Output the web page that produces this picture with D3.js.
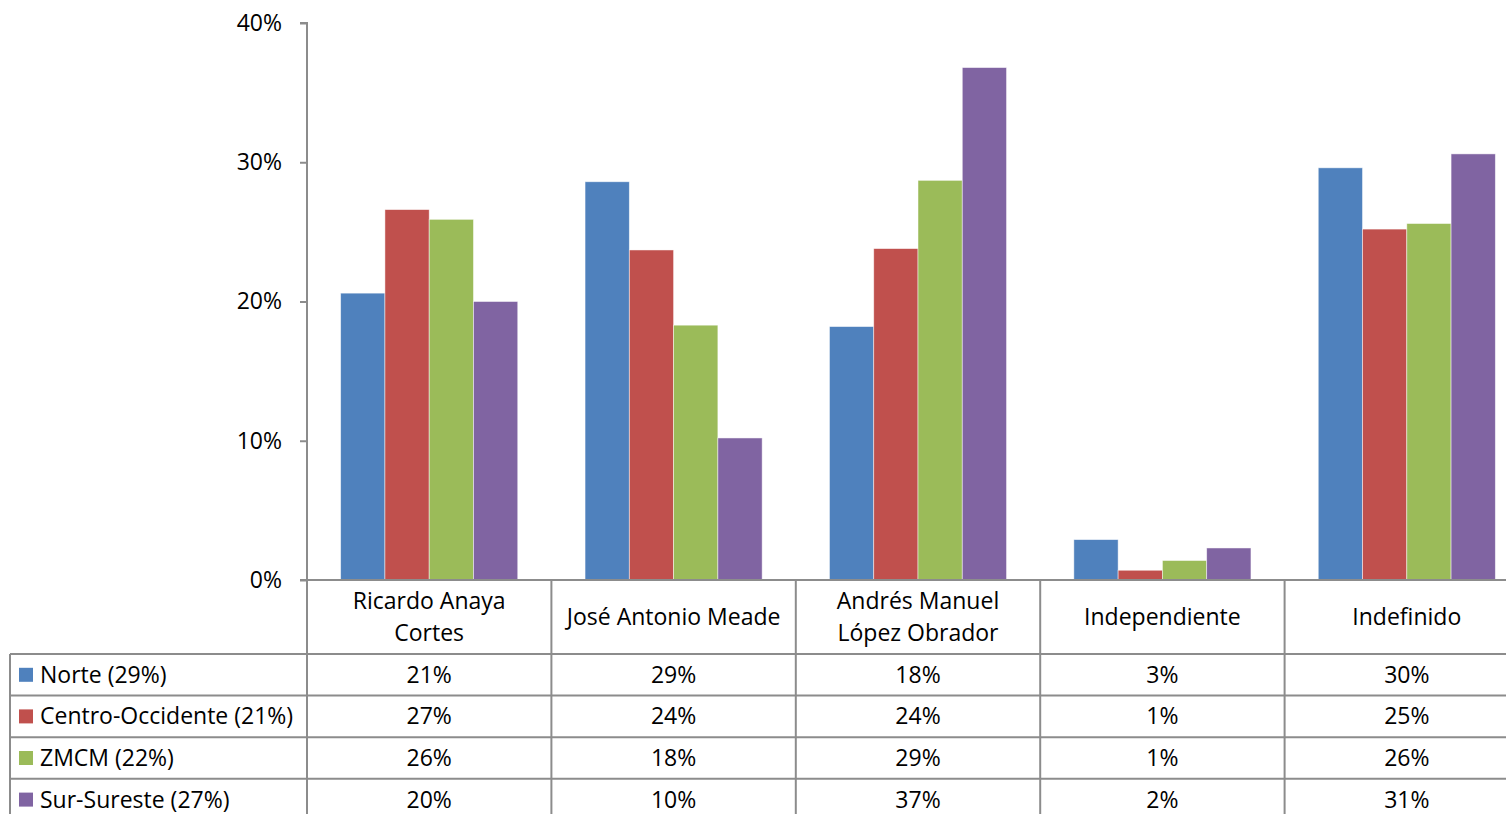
<!DOCTYPE html>
<html>
<head>
<meta charset="utf-8">
<script src="https://cdn.jsdelivr.net/npm/d3@7"></script>
<style>
  body { margin: 0; background: #fff; }
  svg { display: block; font-family: "Open Sans", sans-serif; }
</style>
</head>
<body>
<svg id="chart" width="1506" height="814"></svg>
<script>
// categorias (eje x) y series por region
var categorias = [["Ricardo Anaya", "Cortes"], ["José Antonio Meade"], ["Andrés Manuel", "López Obrador"], ["Independiente"], ["Indefinido"]];
var regiones = ["Norte (29%)", "Centro-Occidente (21%)", "ZMCM (22%)", "Sur-Sureste (27%)"];
var colores = ["#4f81bd", "#c0504d", "#9bbb59", "#8064a2"];
var norte = [0.206, 0.286, 0.182, 0.029, 0.296];
var centro = [0.266, 0.237, 0.238, 0.007, 0.252];
var zmcm = [0.259, 0.183, 0.287, 0.014, 0.256];
var sur = [0.200, 0.102, 0.368, 0.023, 0.306];
var yTicks = [0, 0.1, 0.2, 0.3, 0.4];

var valores = [norte, centro, zmcm, sur];

var svg = d3.select("#chart");
var W = 1506, H = 814;
var mLeft = 307, mTop = 23, mBottom = 580, colW = 244.4;
var tableLeft = 10, headH = 74, rowH = 41.6;
var gris = "#8c8c8c";
var fs = 23;

var catIdx = d3.range(categorias.length);
var x0 = d3.scaleBand().domain(catIdx).range([mLeft, mLeft + colW * categorias.length]);
var x1 = d3.scaleBand().domain(d3.range(regiones.length)).range([0, x0.bandwidth()]).paddingOuter(0.76);
var y = d3.scaleLinear().domain([0, 0.4]).range([mBottom, mTop]);
var fmt = d3.format(".0%");

// barras
var grupos = svg.append("g").selectAll("g").data(valores).enter()
    .append("g")
    .attr("fill", function (d, i) { return colores[i]; });
grupos.each(function (serie, s) {
    d3.select(this).selectAll("rect").data(serie).enter()
        .append("rect")
        .attr("x", function (d, i) { return x0(i) + x1(s); })
        .attr("y", function (d) { return y(d); })
        .attr("width", x1.bandwidth())
        .attr("height", function (d) { return mBottom - y(d); })
        .attr("stroke", "#ffffff")
        .attr("stroke-opacity", 0.6)
        .attr("stroke-width", 0.8);
});

// eje y
var yAxis = d3.axisLeft(y).tickValues(yTicks).tickFormat(fmt).tickSize(7).tickPadding(18);
var gy = svg.append("g").attr("transform", "translate(" + mLeft + ",0)").call(yAxis);
gy.select(".domain").attr("stroke", gris).attr("stroke-width", 2)
    .attr("d", "M-7," + mTop + "H0V" + mBottom);
gy.selectAll(".tick line").attr("stroke", gris).attr("stroke-width", 2);
gy.selectAll(".tick text").attr("font-size", fs).attr("fill", "#000")
    .attr("font-family", "'Open Sans', sans-serif");

// tabla de datos
var tabla = svg.append("g");
var rowY = function (r) { return mBottom + headH + r * rowH; };
var right = W + 40;

// lineas horizontales
tabla.append("line").attr("x1", mLeft - 7).attr("x2", right).attr("y1", mBottom).attr("y2", mBottom);
regiones.forEach(function (r, i) {
    tabla.append("line").attr("x1", tableLeft).attr("x2", right).attr("y1", rowY(i)).attr("y2", rowY(i));
});
tabla.append("line").attr("x1", tableLeft).attr("x2", right).attr("y1", rowY(regiones.length)).attr("y2", rowY(regiones.length));
// lineas verticales
tabla.append("line").attr("x1", tableLeft).attr("x2", tableLeft).attr("y1", rowY(0)).attr("y2", H + 20);
catIdx.forEach(function (i) {
    tabla.append("line").attr("x1", x0(i)).attr("x2", x0(i)).attr("y1", mBottom).attr("y2", H + 20);
});
tabla.selectAll("line").attr("stroke", gris).attr("stroke-width", 2);

// encabezados
catIdx.forEach(function (i) {
    var lines = categorias[i];
    var cx = x0(i) + x0.bandwidth() / 2;
    var cy = mBottom + headH / 2;
    var t = tabla.append("text").attr("text-anchor", "middle").attr("font-size", fs).attr("fill", "#000");
    lines.forEach(function (l, k) {
        t.append("tspan").attr("x", cx)
            .attr("y", cy + (k - (lines.length - 1) / 2) * 32)
            .attr("dy", "0.35em")
            .text(l);
    });
});

// filas
regiones.forEach(function (reg, r) {
    var cy = rowY(r) + rowH / 2;
    tabla.append("rect").attr("x", 19).attr("y", cy - 7).attr("width", 14).attr("height", 14).attr("fill", colores[r]);
    tabla.append("text").attr("x", 40).attr("y", cy).attr("dy", "0.35em")
        .attr("font-size", fs).attr("fill", "#000").text(reg);
    tabla.append("g").selectAll("text").data(valores[r]).enter()
        .append("text")
        .attr("x", function (d, i) { return x0(i) + x0.bandwidth() / 2; })
        .attr("y", cy).attr("dy", "0.35em")
        .attr("text-anchor", "middle")
        .attr("font-size", fs).attr("fill", "#000")
        .text(function (d) { return fmt(d); });
});
</script>
</body>
</html>
